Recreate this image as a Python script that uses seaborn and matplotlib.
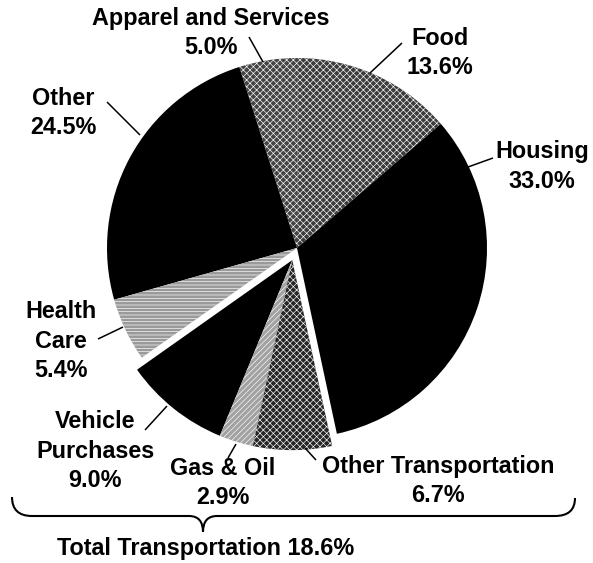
import numpy as np
import matplotlib
matplotlib.use("Agg")
import matplotlib.pyplot as plt
from matplotlib.path import Path
from matplotlib.patches import PathPatch
import seaborn as sns

# ---- data ----
categories = ["Food", "Apparel and Services", "Other", "Health Care",
              "Vehicle Purchases", "Gas & Oil", "Other Transportation", "Housing"]
shares = [13.6, 5.0, 24.5, 5.4, 9.0, 2.9, 6.7, 33.0]
label_texts = ["Food\n13.6%", "Apparel and Services\n5.0%", "Other\n24.5%",
               "Health\nCare\n5.4%", "Vehicle\nPurchases\n9.0%", "Gas & Oil\n2.9%",
               "Other Transportation\n6.7%", "Housing\n33.0%"]
transport_group = ["Vehicle Purchases", "Gas & Oil", "Other Transportation"]
total_label = "Total Transportation 18.6%"

# ---- style ----
sns.set_theme(style="white")
plt.rcParams["font.family"] = ["Liberation Sans", "DejaVu Sans"]
plt.rcParams["hatch.linewidth"] = 0.45
plt.rcParams["hatch.color"] = "white"

faces = ["#3c3c3c", "#444444", "black", "#9a9a9a", "black", "#a2a2a2", "#262626", "black"]
hatches = ["xxxxx", "xxxxx", None, "-----", None, "//////", "xxxxx", None]

W, H = 593, 563
fig = plt.figure(figsize=(W / 100, H / 100), dpi=100)
ax = fig.add_axes([0, 0, 1, 1])

cx, cy, R = 297, 248, 190
wedges, _ = ax.pie(shares, colors=faces, startangle=-40.8, counterclock=False,
                   radius=R, center=(cx, cy),
                   wedgeprops=dict(linewidth=0, edgecolor="white"))
for w, h in zip(wedges, hatches):
    if h:
        w.set_hatch(h)

# explode the transportation slices together
grp = [wedges[categories.index(c)] for c in transport_group]
t_lo = min(min(w.theta1, w.theta2) for w in grp)
t_hi = max(max(w.theta1, w.theta2) for w in grp)
mid = np.deg2rad((t_lo + t_hi) / 2)
shift = 13
for w in grp:
    w.set_center((cx + shift * np.cos(mid), cy + shift * np.sin(mid)))

ax.set_xlim(0, W)
ax.set_ylim(H, 0)
ax.set_aspect("equal")
ax.axis("off")

# ---- labels (layout in pixels: center x, first baseline) ----
layout = {
    "Food": (440, 45),
    "Apparel and Services": (211, 25),
    "Other": (63, 105),
    "Health Care": (61, 318),
    "Vehicle Purchases": (95, 428),
    "Gas & Oil": (223, 475),
    "Other Transportation": (438, 473),
    "Housing": (542, 158),
}
leaders = {
    "Food": ((402, 43), (370, 73)),
    "Apparel and Services": ((249, 37), (263, 62)),
    "Other": ((107, 102), (140, 135)),
    "Health Care": ((98, 339), (123, 327)),
    "Vehicle Purchases": ((145, 430), (167, 406)),
    "Gas & Oil": ((228, 458), (236, 444)),
    "Other Transportation": ((316, 460), (305, 448)),
    "Housing": ((493, 158), (468, 167)),
}
pitch = 29.5
fs = 16.8
for cat, txt in zip(categories, label_texts):
    x0, y0 = layout[cat]
    for i, line in enumerate(txt.split("\n")):
        ax.text(x0, y0 + i * pitch, line, ha="center", va="baseline",
                fontsize=fs, fontweight="bold", color="black")
    (x1, y1), (x2, y2) = leaders[cat]
    ax.plot([x1, x2], [y1, y2], color="black", lw=1.1, solid_capstyle="butt")

# ---- brace ----
verts = [(12, 497), (12, 516), (32, 516), (189, 516), (203, 516), (203, 532),
         (203, 532), (203, 516), (217, 516), (555, 516), (575, 516), (575, 498)]
codes = [Path.MOVETO, Path.CURVE3, Path.CURVE3, Path.LINETO, Path.CURVE3, Path.CURVE3,
         Path.MOVETO, Path.CURVE3, Path.CURVE3, Path.LINETO, Path.CURVE3, Path.CURVE3]
ax.add_patch(PathPatch(Path(verts, codes), fill=False, lw=1.5, edgecolor="black"))
ax.text(206, 555, total_label, ha="center", va="baseline",
        fontsize=fs, fontweight="bold", color="black")

fig.savefig("out.png", dpi=100)
